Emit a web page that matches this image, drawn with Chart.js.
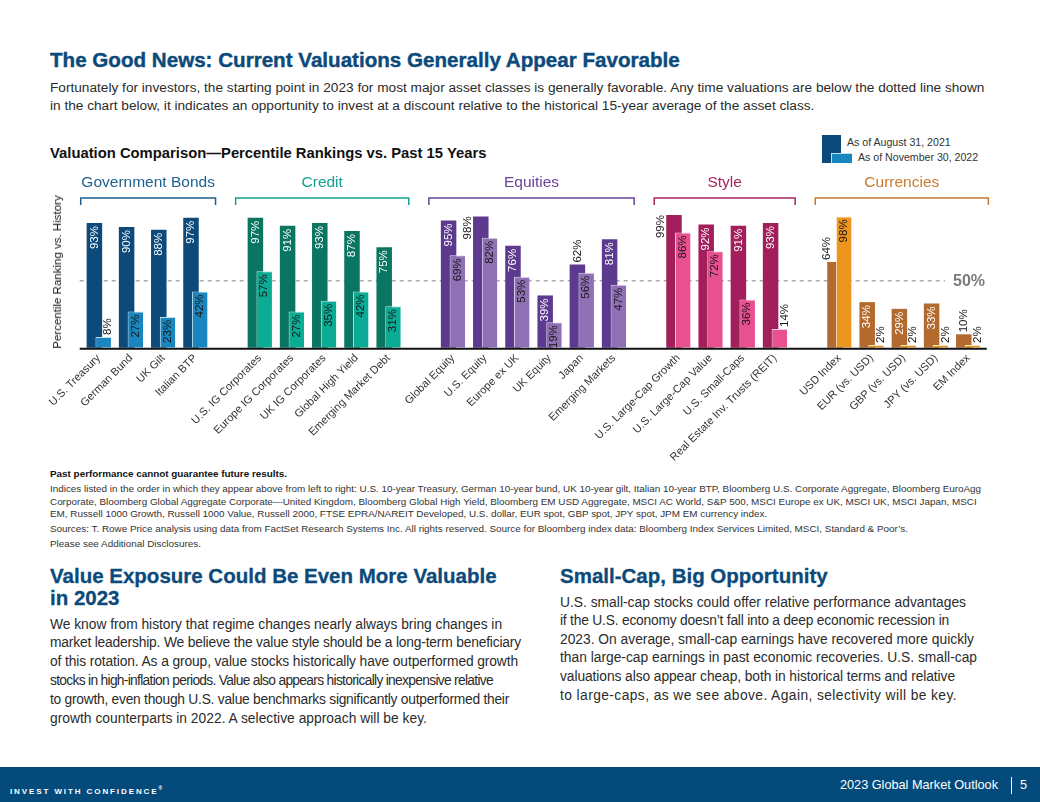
<!DOCTYPE html>
<html>
<head>
<meta charset="utf-8">
<script src="https://cdn.jsdelivr.net/npm/chart.js@4.4.1/dist/chart.umd.min.js"></script>
<style>
  html, body { margin: 0; padding: 0; background: #fff; }
  body { width: 1040px; height: 802px; position: relative; overflow: hidden;
         font-family: "Liberation Sans", Arial, sans-serif; color: #2b2b2b; }
  .abs { position: absolute; white-space: nowrap; }
  .title { left: 50px; top: 48px; font-size: 20.6px; line-height: 24px; font-weight: bold; color: #0b4a7a;
           -webkit-text-stroke: 0.4px #0b4a7a; }
  .intro { left: 50px; top: 79px; font-size: 13.66px; line-height: 18px; }
  .ctitle { left: 50px; top: 144px; font-size: 14.8px; line-height: 18px; font-weight: bold; color: #111; }
  .leg { font-size: 10.6px; line-height: 14px; color: #333; }
  .note { left: 50px; font-size: 9.9px; line-height: 12.5px; color: #333; }
  .h2 { top: 565px; font-size: 20.5px; line-height: 22px; font-weight: bold; color: #0b4a7a;
        -webkit-text-stroke: 0.3px #0b4a7a; }
  .col { font-size: 13.8px; color: #2b2b2b; }
  .col span { display: block; }
  .footer { left: 0; top: 767px; width: 1040px; height: 35px; background: #044b7b; }
  #chartBox { position: absolute; left: 0; top: 165px; width: 1040px; height: 300px; }
  .ylab { left: 57px; top: 272px; font-size: 11.5px; color: #111;
          transform: translate(-50%, -50%) rotate(-90deg); }
</style>
</head>
<body>
<div class="abs title">The Good News: Current Valuations Generally Appear Favorable</div>
<div class="abs intro">Fortunately for investors, the starting point in 2023 for most major asset classes is generally favorable. Any time valuations are below the dotted line shown<br>in the chart below, it indicates an opportunity to invest at a discount relative to the historical 15-year average of the asset class.</div>
<div class="abs ctitle">Valuation Comparison—Percentile Rankings vs. Past 15 Years</div>

<div class="abs" style="left:822px;top:135px;width:19px;height:28px;background:#0b4a7a"></div>
<div class="abs" style="left:831px;top:153px;width:21px;height:10px;background:#1a86c0;border-left:1px solid #bfe0f0;border-top:1px solid #bfe0f0;box-sizing:border-box"></div>
<div class="abs leg" style="left:847px;top:135px">As of August 31, 2021</div>
<div class="abs leg" style="left:858px;top:150px">As of November 30, 2022</div>

<div id="chartBox"><canvas id="chart"></canvas></div>
<div class="abs ylab">Percentile Ranking vs. History</div>

<div class="abs note" style="top:468px;font-weight:bold;color:#111">Past performance cannot guarantee future results.</div>
<div class="abs note" style="top:483px">Indices listed in the order in which they appear above from left to right: U.S. 10-year Treasury, German 10-year bund, UK 10-year gilt, Italian 10-year BTP, Bloomberg U.S. Corporate Aggregate, Bloomberg EuroAgg<br>Corporate, Bloomberg Global Aggregate Corporate—United Kingdom, Bloomberg Global High Yield, Bloomberg EM USD Aggregate, MSCI AC World, S&amp;P 500, MSCI Europe ex UK, MSCI UK, MSCI Japan, MSCI<br>EM, Russell 1000 Growth, Russell 1000 Value, Russell 2000, FTSE EPRA/NAREIT Developed, U.S. dollar, EUR spot, GBP spot, JPY spot, JPM EM currency index.</div>
<div class="abs note" style="top:523px">Sources: T. Rowe Price analysis using data from FactSet Research Systems Inc. All rights reserved. Source for Bloomberg index data: Bloomberg Index Services Limited, MSCI, Standard &amp; Poor’s.</div>
<div class="abs note" style="top:538px">Please see Additional Disclosures.</div>

<div class="abs h2" style="left:50px">Value Exposure Could Be Even More Valuable<br>in 2023</div>
<div class="abs col" id="colLeft" style="left:50px;top:615.6px;line-height:18.8px"><span>We know from history that regime changes nearly always bring changes in</span><span>market leadership. We believe the value style should be a long-term beneficiary</span><span>of this rotation. As a group, value stocks historically have outperformed growth</span><span>stocks in high-inflation periods. Value also appears historically inexpensive relative</span><span>to growth, even though U.S. value benchmarks significantly outperformed their</span><span>growth counterparts in 2022. A selective approach will be key.</span></div>
<div class="abs h2" style="left:560px">Small-Cap, Big Opportunity</div>
<div class="abs col" id="colRight" style="left:560px;top:593.7px;line-height:18.6px"><span>U.S. small-cap stocks could offer relative performance advantages</span><span>if the U.S. economy doesn’t fall into a deep economic recession in</span><span>2023. On average, small-cap earnings have recovered more quickly</span><span>than large-cap earnings in past economic recoveries. U.S. small-cap</span><span>valuations also appear cheap, both in historical terms and relative</span><span>to large-caps, as we see above. Again, selectivity will be key.</span></div>

<div class="abs footer"></div>
<div class="abs" style="left:10px;top:782px;font-size:8px;line-height:12px;font-weight:bold;letter-spacing:1.9px;color:#fff">INVEST WITH CONFIDENCE<sup style="font-size:5px">®</sup></div>
<div class="abs" style="left:840px;top:776px;font-size:12.7px;line-height:18px;color:#fff">2023 Global Market Outlook</div>
<div class="abs" style="left:1011px;top:777px;width:1px;height:17px;background:#fff"></div>
<div class="abs" style="left:1020px;top:776px;font-size:12.7px;line-height:18px;color:#fff">5</div>

<script>
// --- Data ---
const groupNames = ['Government Bonds', 'Credit', 'Equities', 'Style', 'Currencies'];
const govBonds = ['U.S. Treasury', 'German Bund', 'UK Gilt', 'Italian BTP'];
const credit = ['U.S. IG Corporates', 'Europe IG Corporates', 'UK IG Corporates', 'Global High Yield', 'Emerging Market Debt'];
const equities = ['Global Equity', 'U.S. Equity', 'Europe ex UK', 'UK Equity', 'Japan', 'Emerging Markets'];
const style = ['U.S. Large-Cap Growth', 'U.S. Large-Cap Value', 'U.S. Small-Caps', 'Real Estate Inv. Trusts (REIT)'];
const currencies = ['USD Index', 'EUR (vs. USD)', 'GBP (vs. USD)', 'JPY (vs. USD)', 'EM Index'];

// percentile rank, same order as the categories above
const aug2021 = [93, 90, 88, 97,  97, 91, 93, 87, 75,  95, 98, 76, 39, 62, 81,  99, 92, 91, 93,  64, 34, 29, 33, 10];
const nov2022 = [8, 27, 23, 42,  57, 27, 35, 42, 31,  69, 82, 53, 19, 56, 47,  86, 72, 36, 14,  98, 2, 2, 2, 2];
const midLine = 50;

// --- Colours ---
const darkColors = ['#0b4a7a', '#0a7560', '#5c3a8e', '#a31f5c', '#b4692d'];
const lightColors = ['#1a86c0', '#0bab96', '#9070b4', '#e8508f', '#ec951f'];
const edgeColors = ['#bfe0f0', '#b8ece4', '#e2d8ee', '#fad0e2', '#fbe0b8'];
const headColors = ['#1d5f8f', '#14a090', '#6a4598', '#a8245f', '#c87a2f'];

// line end positions of the two text columns (to match the print tracking)
const leftEnds = [502, 521, 518, 493, 509, 427];
const rightEnds = [966, 949, 974, 977, 955, 957];

function fitLines(id, ends) {
    const box = document.getElementById(id);
    const left = box.getBoundingClientRect().left;
    box.querySelectorAll('span').forEach((sp, i) => {
        const r = document.createRange();
        r.selectNodeContents(sp);
        const w = r.getBoundingClientRect().width;
        const n = sp.textContent.length;
        sp.style.letterSpacing = ((ends[i] - left - w) / n).toFixed(3) + 'px';
    });
}
fitLines('colLeft', leftEnds);
fitLines('colRight', rightEnds);

// --- Build category axis with an empty slot between groups ---
const groups = [govBonds, credit, equities, style, currencies];
const labels = [];
const groupOf = [];
const groupRange = [];
const data21 = [];
const data22 = [];
let k = 0;
groups.forEach((g, gi) => {
    if (gi > 0) { labels.push(''); groupOf.push(-1); data21.push(null); data22.push(null); }
    const start = labels.length;
    g.forEach(name => {
        labels.push(name);
        groupOf.push(gi);
        data21.push(aug2021[k]);
        data22.push(nov2022[k]);
        k++;
    });
    groupRange.push([start, labels.length - 1]);
});
const pick = arr => groupOf.map(g => g < 0 ? 'transparent' : arr[g]);

// --- Plugins ---
// dashed 50% line + draw the 2021 bars underneath the 2022 bars
const underlay = {
    id: 'underlay',
    beforeDatasetsDraw(chart) {
        const ctx = chart.ctx;
        const y = chart.scales.y.getPixelForValue(midLine);
        ctx.save();
        ctx.strokeStyle = '#a9a9a9';
        ctx.lineWidth = 1.5;
        ctx.setLineDash([4, 4]);
        ctx.beginPath();
        ctx.moveTo(chart.chartArea.left - 3, y);
        ctx.lineTo(945, y);
        ctx.stroke();
        ctx.restore();
        ctx.save();
        ctx.font = 'bold 16px "Liberation Sans", Arial, sans-serif';
        ctx.fillStyle = '#7a7a7a';
        ctx.textBaseline = 'middle';
        ctx.fillText('50%', 953, y + 1);
        ctx.restore();
        chart.getDatasetMeta(0).controller.draw();
    },
    beforeDatasetDraw(chart, args) {
        if (args.index === 0) return false;
    }
};

function drawRot(ctx, text, x, y, align, color) {
    ctx.save();
    ctx.translate(x, y);
    ctx.rotate(-Math.PI / 2);
    ctx.textAlign = align;
    ctx.fillStyle = color;
    ctx.fillText(text, 0, 0);
    ctx.restore();
}

const valueLabels = {
    id: 'valueLabels',
    afterDatasetsDraw(chart) {
        const ctx = chart.ctx;
        const dark = chart.getDatasetMeta(0).data;
        const light = chart.getDatasetMeta(1).data;
        const yBase = chart.scales.y.getPixelForValue(0);
        ctx.save();
        ctx.font = '11.5px "Liberation Sans", Arial, sans-serif';
        ctx.textBaseline = 'middle';
        labels.forEach((name, i) => {
            if (groupOf[i] < 0) return;
            const d = dark[i].getProps(['x', 'y', 'width'], true);
            const l = light[i].getProps(['x', 'y', 'width'], true);
            const t21 = data21[i] + '%';
            const t22 = data22[i] + '%';
            const w21 = ctx.measureText(t21).width;
            const w22 = ctx.measureText(t22).width;
            // Nov 2022 (front bar)
            if (yBase - l.y >= w22 + 2) drawRot(ctx, t22, l.x, l.y + 3, 'right', '#161616');
            else drawRot(ctx, t22, l.x + 5, l.y - 2, 'left', '#161616');
            // Aug 2021 (back bar)
            const room = l.y - d.y;
            if (room >= w21 + 3) drawRot(ctx, t21, d.x, d.y + 3, 'right', '#ffffff');
            else if (data21[i] > 90) drawRot(ctx, t21, d.x - d.width / 2 - 5, d.y, 'right', '#161616');
            else if (room < 0) drawRot(ctx, t21, d.x - d.width / 2, d.y - 2, 'left', '#161616');
            else drawRot(ctx, t21, d.x, d.y - 2, 'left', '#161616');
        });
        ctx.restore();

        // baseline
        ctx.save();
        ctx.strokeStyle = '#111';
        ctx.lineWidth = 2;
        ctx.beginPath();
        ctx.moveTo(chart.chartArea.left - 3, yBase + 1);
        ctx.lineTo(chart.chartArea.right + 2.5, yBase + 1);
        ctx.stroke();
        ctx.restore();
    }
};

const groupBrackets = {
    id: 'groupBrackets',
    afterDraw(chart) {
        const ctx = chart.ctx;
        const dark = chart.getDatasetMeta(0).data;
        const light = chart.getDatasetMeta(1).data;
        const lineY = 33, tickY = 40, textY = 17.5;
        groupRange.forEach(([a, b], gi) => {
            const da = dark[a].getProps(['x', 'width'], true);
            const lb = light[b].getProps(['x', 'width'], true);
            const x1 = Math.max(da.x - da.width / 2 - 12, chart.chartArea.left - 2);
            const x2 = lb.x + lb.width / 2 + 8;
            ctx.save();
            ctx.strokeStyle = headColors[gi];
            ctx.lineWidth = 1.5;
            ctx.beginPath();
            ctx.moveTo(x1, tickY);
            ctx.lineTo(x1, lineY);
            ctx.lineTo(x2, lineY);
            ctx.lineTo(x2, tickY);
            ctx.stroke();
            ctx.font = '15.5px "Liberation Sans", Arial, sans-serif';
            ctx.fillStyle = headColors[gi];
            ctx.textAlign = 'center';
            ctx.textBaseline = 'middle';
            ctx.fillText(groupNames[gi], (x1 + x2) / 2, textY);
            ctx.restore();
        });
    }
};

// --- Chart ---
const ctx = document.getElementById('chart').getContext('2d');
new Chart(ctx, {
    type: 'bar',
    data: {
        labels: labels,
        datasets: [{
            label: 'As of August 31, 2021',
            data: data21,
            backgroundColor: pick(darkColors),
            borderWidth: 0,
            order: 0
        }, {
            label: 'As of November 30, 2022',
            data: data22,
            backgroundColor: pick(lightColors),
            borderColor: pick(edgeColors),
            borderWidth: { left: 1, top: 1, right: 0, bottom: 0 },
            borderSkipped: false,
            order: 1
        }]
    },
    options: {
        responsive: true,
        maintainAspectRatio: false,
        animation: false,
        categoryPercentage: 0.547,
        barPercentage: 1.76,
        layout: { padding: { left: 82.7, right: 55.7, top: 48.7, bottom: 0 } },
        plugins: {
            legend: { display: false },
            tooltip: { enabled: false }
        },
        scales: {
            x: {
                grid: { display: false, drawTicks: false },
                border: { display: false },
                afterFit: scale => { scale.height = 117.3; },
                ticks: {
                    autoSkip: false,
                    maxRotation: 45,
                    minRotation: 45,
                    padding: 4,
                    color: '#333',
                    font: { family: '"Liberation Sans", Arial, sans-serif', size: 11 }
                }
            },
            y: {
                display: false,
                min: 0,
                max: 100
            }
        }
    },
    plugins: [underlay, valueLabels, groupBrackets]
});
</script>
</body>
</html>
